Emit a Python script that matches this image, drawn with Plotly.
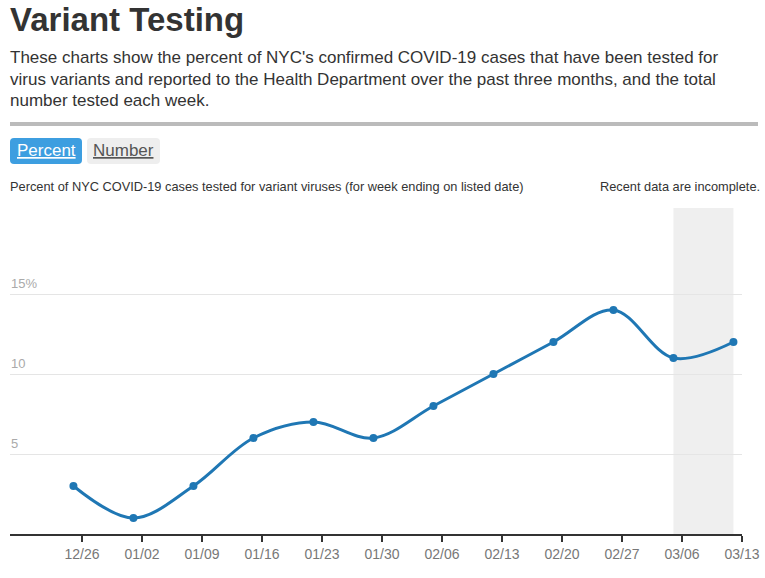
import plotly.graph_objects as go

dates = ["2020-12-25", "2021-01-01", "2021-01-08", "2021-01-15", "2021-01-22", "2021-01-29",
         "2021-02-05", "2021-02-12", "2021-02-19", "2021-02-26", "2021-03-05", "2021-03-12"]
percent = [3, 1, 3, 6, 7, 6, 8, 10, 12, 14, 11, 12]
tick_dates = ["2020-12-26", "2021-01-02", "2021-01-09", "2021-01-16", "2021-01-23", "2021-01-30",
              "2021-02-06", "2021-02-13", "2021-02-20", "2021-02-27", "2021-03-06", "2021-03-13"]
tick_labels = ["12/26", "01/02", "01/09", "01/16", "01/23", "01/30",
               "02/06", "02/13", "02/20", "02/27", "03/06", "03/13"]
y_ticks = [5, 10, 15]
y_tick_labels = ["5", "10", "15%"]
incomplete_start = "2021-03-05"
incomplete_end = "2021-03-12"

W, H = 765, 578
L, R, T, B = 10, 742, 208, 534

def px(x):
    return (x - L) / (R - L)

def py(y):
    return (B - y) / (B - T)

fig = go.Figure()
fig.add_trace(go.Scatter(
    x=dates, y=percent, mode="lines+markers",
    line=dict(color="#1f77b4", width=3, shape="spline", smoothing=1.0),
    marker=dict(color="#1f77b4", size=8),
    hoverinfo="x+y", showlegend=False, cliponaxis=False))

shapes = []
shapes.append(dict(type="rect", xref="x", yref="paper", x0=incomplete_start, x1=incomplete_end,
                   y0=0, y1=1, fillcolor="#efefef", line=dict(width=0), layer="below"))
shapes.append(dict(type="rect", xref="paper", yref="paper", x0=px(10), x1=px(758),
                   y0=py(126), y1=py(122), fillcolor="#bbbbbb", line=dict(width=0)))

def rounded(x0, y0, x1, y1, r, color):
    X0, X1 = px(x0), px(x1)
    Y0, Y1 = py(y0), py(y1)
    rx = r / (R - L)
    ry = r / (B - T)
    path = (f"M {X0+rx},{Y0} L {X1-rx},{Y0} Q {X1},{Y0} {X1},{Y0-ry} "
            f"L {X1},{Y1+ry} Q {X1},{Y1} {X1-rx},{Y1} L {X0+rx},{Y1} "
            f"Q {X0},{Y1} {X0},{Y1+ry} L {X0},{Y0-ry} Q {X0},{Y0} {X0+rx},{Y0} Z")
    return dict(type="path", xref="paper", yref="paper", path=path,
                fillcolor=color, line=dict(width=0))

shapes.append(rounded(10, 138, 82, 164, 4, "#3d9ee0"))
shapes.append(rounded(87, 138, 160, 164, 4, "#eeeeee"))

ann = []
ann.append(dict(text="<b>Variant Testing</b>", x=px(9), y=py(19), xanchor="left", yanchor="middle",
                font=dict(family="Arial", size=33, color="#333333")))
para = ["These charts show the percent of NYC's confirmed COVID-19 cases that have been tested for",
        "virus variants and reported to the Health Department over the past three months, and the total",
        "number tested each week."]
for i, line in enumerate(para):
    ann.append(dict(text=line, x=px(9), y=py(57 + 22 * i), xanchor="left", yanchor="middle",
                    font=dict(family="Arial", size=17, color="#333333")))
ann.append(dict(text="<u>Percent</u>", x=px(46), y=py(151), xanchor="center", yanchor="middle",
                font=dict(family="Arial", size=17, color="#ffffff")))
ann.append(dict(text="<u>Number</u>", x=px(123.5), y=py(151), xanchor="center", yanchor="middle",
                font=dict(family="Arial", size=17, color="#555555")))
ann.append(dict(text="Percent of NYC COVID-19 cases tested for variant viruses (for week ending on listed date)",
                x=px(9), y=py(187), xanchor="left", yanchor="middle",
                font=dict(family="Arial", size=12.8, color="#333333")))
ann.append(dict(text="Recent data are incomplete.", x=px(761), y=py(187), xanchor="right", yanchor="middle",
                font=dict(family="Arial", size=12.8, color="#333333")))
for v, lab in zip(y_ticks, y_tick_labels):
    ann.append(dict(text=lab, x=px(10), xref="paper", y=v, yref="y", xanchor="left", yanchor="bottom",
                    yshift=2, font=dict(family="Arial", size=13, color="#aaaaaa")))
for a in ann:
    a.setdefault("xref", "paper")
    a.setdefault("yref", "paper")
    a["showarrow"] = False
    a.setdefault("borderpad", 0)

fig.update_layout(
    width=W, height=H, autosize=False,
    margin=dict(l=L, r=W - R, t=T, b=H - B, pad=0, autoexpand=False),
    paper_bgcolor="white", plot_bgcolor="white",
    shapes=shapes, annotations=ann,
    xaxis=dict(type="date", range=["2020-12-17 14:24", "2021-03-13"],
               tickvals=tick_dates, ticktext=tick_labels,
               ticks="outside", ticklen=6, tickwidth=1.5, tickcolor="#333333",
               showline=True, linecolor="#333333", linewidth=1.5,
               showgrid=False, zeroline=False, automargin=False,
               tickfont=dict(family="Arial", size=14, color="#777777")),
    yaxis=dict(range=[0, (B - T) / 16], tickvals=y_ticks, showticklabels=False,
               showgrid=True, gridcolor="#e5e5e5", gridwidth=1, zeroline=False,
               showline=False, ticks="", automargin=False),
    font=dict(family="Arial"),
)

fig.write_html("out.html")
